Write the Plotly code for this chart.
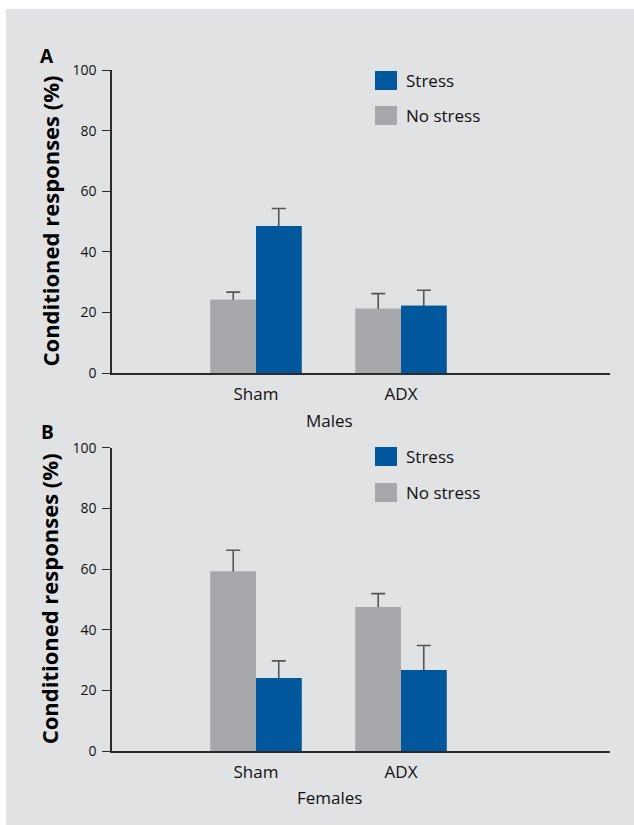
import plotly.graph_objects as go

W, H = 634, 825

categories = ["Sham", "ADX"]
series_names = ["No stress", "Stress"]

males_no_stress = [24.2, 21.2]
males_no_stress_err = [2.5, 5.0]
males_stress = [48.5, 22.2]
males_stress_err = [5.8, 5.1]

females_no_stress = [59.2, 47.5]
females_no_stress_err = [7.0, 4.4]
females_stress = [24.1, 26.7]
females_stress_err = [5.6, 8.1]

y_ticks = [0, 20, 40, 60, 80, 100]

GRAY = "#a7a8ab"
BLUE = "#00579b"
BG = "#e1e2e4"
AX = "#2b2b2b"
ERR = "#555555"
TXT = "#111111"
FONT = "Open Sans"

def px(x):
    return x / W

def py(y):
    return 1 - y / H

BAR_W = 0.314

fig = go.Figure()

panels = [
    ("x", "y", males_no_stress, males_no_stress_err, males_stress, males_stress_err),
    ("x2", "y2", females_no_stress, females_no_stress_err, females_stress, females_stress_err),
]
for xa, ya, ns, nse, s, se in panels:
    for vals, errs, color, name, off in [(ns, nse, GRAY, series_names[0], -BAR_W),
                                         (s, se, BLUE, series_names[1], 0.0)]:
        # bar carrying the error bar (its lower end is tucked inside the bar)
        fig.add_trace(go.Bar(
            x=categories, y=vals, name=name, width=BAR_W, offset=off,
            marker=dict(color=color, line=dict(width=0)),
            error_y=dict(type="data", array=errs, arrayminus=[1.5] * len(errs), symmetric=False,
                         color=ERR, thickness=1.6, width=7),
            xaxis=xa, yaxis=ya, showlegend=False))
    for vals, color, name, off in [(ns, GRAY, series_names[0], -BAR_W),
                                   (s, BLUE, series_names[1], 0.0)]:
        # the same bar again on top, hiding the lower part of the error bar
        fig.add_trace(go.Bar(
            x=categories, y=vals, name=name, width=BAR_W, offset=off,
            marker=dict(color=color, line=dict(width=0)),
            xaxis=xa, yaxis=ya, showlegend=False, hoverinfo="skip"))

x_left, x_right = 112, 610
panelA = (70, 373)
panelB = (447.7, 751)
xrange_ = [-0.9931, 2.4414]

xaxis_common = dict(
    domain=[px(x_left), px(x_right)], range=xrange_, type="category", automargin=False,
    showline=True, linecolor=AX, linewidth=2.2, ticks="", showgrid=False, zeroline=False,
    ticklabelstandoff=4,
    tickfont=dict(family=FONT, size=17, color=TXT), fixedrange=True,
)
yaxis_common = dict(
    range=[0, 100], tickvals=y_ticks, automargin=False, showline=True, linecolor=AX,
    linewidth=1.6, ticks="outside", ticklen=8, tickwidth=1.4, tickcolor=AX, showgrid=False,
    zeroline=False, ticklabelstandoff=3,
    tickfont=dict(family=FONT, size=14, color=TXT), fixedrange=True,
)

fig.update_layout(
    width=W, height=H, margin=dict(l=0, r=0, t=0, b=0, pad=0), autosize=False,
    paper_bgcolor="white", plot_bgcolor="rgba(0,0,0,0)",
    barmode="overlay",
    xaxis=dict(xaxis_common, anchor="y"),
    yaxis=dict(yaxis_common, domain=[py(panelA[1]), py(panelA[0])], anchor="x"),
    xaxis2=dict(xaxis_common, anchor="y2"),
    yaxis2=dict(yaxis_common, domain=[py(panelB[1]), py(panelB[0])], anchor="x2"),
    font=dict(family=FONT),
)

shapes = [dict(type="rect", xref="paper", yref="paper", x0=px(6), x1=1, y0=0, y1=py(9),
               fillcolor=BG, line=dict(width=0), layer="below")]
annotations = []

def legend_block(top_stress, top_nostress):
    for top, color, label in [(top_stress, BLUE, "Stress"), (top_nostress, GRAY, "No stress")]:
        shapes.append(dict(type="rect", xref="paper", yref="paper",
                           x0=px(375), x1=px(397), y0=py(top + 19), y1=py(top),
                           fillcolor=color, line=dict(width=0)))
        annotations.append(dict(xref="paper", yref="paper", x=px(404), y=py(top + 9.5),
                                xanchor="left", yanchor="middle", text=label, showarrow=False,
                                font=dict(family=FONT, size=17, color=TXT)))

legend_block(71, 106)
legend_block(447, 483)

for letter, yc in [("A", 56), ("B", 432)]:
    annotations.append(dict(xref="paper", yref="paper", x=px(47), y=py(yc), xanchor="center",
                            yanchor="middle", text=f"<b>{letter}</b>", showarrow=False,
                            font=dict(family=FONT, size=19, color="black")))

for (top, bot) in [panelA, panelB]:
    annotations.append(dict(xref="paper", yref="paper", x=px(49), y=py((top + bot) / 2),
                            xanchor="center", yanchor="middle", textangle=-90,
                            text="<b>Conditioned responses (%)</b>", showarrow=False,
                            font=dict(family=FONT, size=22, color="black")))

for label, yc in [("Males", 421), ("Females", 797)]:
    annotations.append(dict(xref="paper", yref="paper", x=px(329), y=py(yc), xanchor="center",
                            yanchor="middle", text=label, showarrow=False,
                            font=dict(family=FONT, size=17, color=TXT)))

fig.update_layout(shapes=shapes, annotations=annotations)

page_css = (
    "document.documentElement.style.margin='0';"
    "document.documentElement.style.padding='0';"
    "document.documentElement.style.overflow='hidden';"
    "document.body.style.margin='0';"
    "document.body.style.padding='0';"
    "document.body.style.overflow='hidden';"
)

fig.write_html("out.html", post_script=page_css, config={"displayModeBar": False})
